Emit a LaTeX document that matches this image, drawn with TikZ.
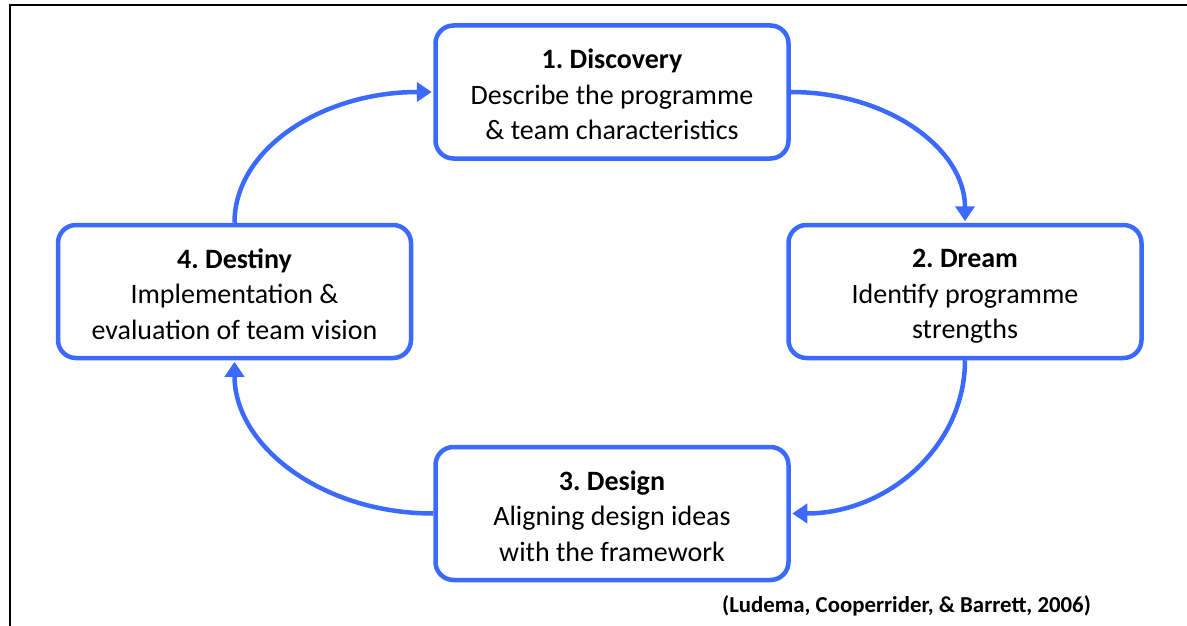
\documentclass[tikz,border=0pt]{standalone}
\usepackage{fontspec}
\setmainfont{Carlito}
\usetikzlibrary{arrows.meta}
\definecolor{cycblue}{RGB}{58,106,255}
\newcommand\firststrut{\rule{0pt}{28pt}}
\newcommand\laststrut{\rule[-4pt]{0pt}{4pt}}
\frenchspacing
\begin{document}
\begin{tikzpicture}[x=1pt,y=-1pt,
  stage/.style={draw=cycblue, line width=4.5pt, rounded corners=18pt,
    minimum width=353pt, minimum height=133pt, align=center, inner sep=0pt,
    fill=white, font=\fontsize{28}{35.5}\selectfont},
  flow/.style={draw=cycblue, line width=4.5pt, shorten >=1.5pt,
    -{Triangle[length=15pt,width=19pt]}},
  frameline/.style={draw=black, line width=2pt},
  cite/.style={font=\bfseries\fontsize{22.8}{26}\selectfont, inner sep=0pt, anchor=base}]
\useasboundingbox (0,0) rectangle (1187,626);
\coordinate (fbl) at (10.3,626);
\coordinate (ftl) at (10.3,5.3);
\coordinate (ftr) at (1187,5.3);
\draw[frameline] (fbl) -- (ftl) -- (ftr);

\node[stage] (b1) at (612,92) {\firststrut\textbf{1. Discovery}\\Describe the programme\\\& team characteristics\laststrut};
\node[stage] (b2) at (965,291.5) {\firststrut\textbf{2. Dream}\\Identify programme\\strengths\laststrut};
\node[stage] (b3) at (612,513.5) {\firststrut\textbf{3. Design}\\Aligning design ideas\\with the framework\laststrut};
\node[stage] (b4) at (234.5,291.5) {\firststrut\textbf{4. Destiny}\\Implementation \&\\evaluation of team vision\laststrut};

\draw[flow] (b1.east) .. controls +(97,0) and +(0,-74) .. (b2.north);
\draw[flow] (b2.south) .. controls +(0,86) and +(97,0) .. (b3.east);
\draw[flow] (b3.west) .. controls +(-111,0) and +(0,86) .. (b4.south);
\draw[flow] (b4.north) .. controls +(0,-74) and +(-111,0) .. (b1.west);

\node[cite] (src) at (906.5,612) {(Ludema, Cooperrider, \& Barrett, 2006)};
\end{tikzpicture}
\end{document}
